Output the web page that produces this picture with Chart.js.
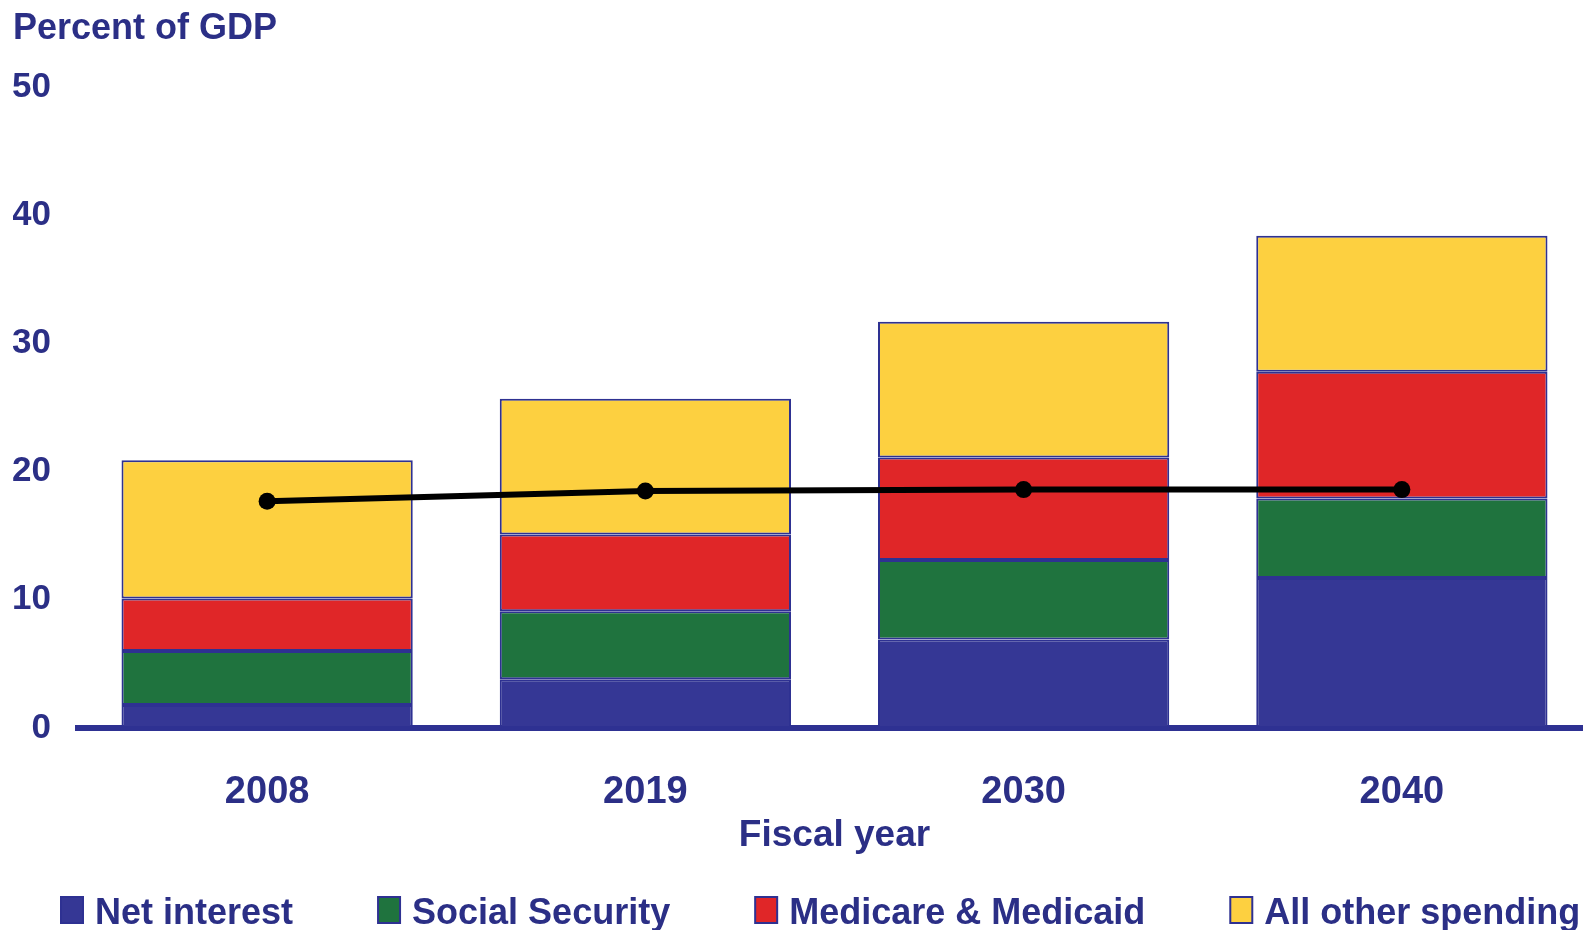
<!DOCTYPE html>
<html>
<head>
<meta charset="utf-8">
<script src="https://cdn.jsdelivr.net/npm/chart.js@4.4.1/dist/chart.umd.min.js"></script>
<style>
html, body { margin: 0; padding: 0; background: #ffffff; overflow: hidden; }
#wrap { position: absolute; left: 0; top: 0; width: 1600px; height: 930px; }
</style>
</head>
<body>
<div id="wrap"><canvas id="chart"></canvas></div>
<script>
// ---- data ----
const categories = ['2008', '2019', '2030', '2040'];
const netInterest = [1.8, 3.8, 6.9, 11.7];
const socialSecurity = [4.2, 5.3, 6.2, 6.2];
const medicareMedicaid = [4.1, 6.0, 8.0, 9.9];
const allOtherSpending = [10.8, 10.6, 10.6, 10.6];
const revenue = [17.7, 18.5, 18.6, 18.6];
const yTickValues = [0, 10, 20, 30, 40, 50];
const seriesLabels = ['Net interest', 'Social Security', 'Medicare & Medicaid', 'All other spending'];
const seriesColors = ['#353795', '#1f733e', '#e02628', '#fdd040'];
const yAxisTitle = 'Percent of GDP';
const xAxisTitle = 'Fiscal year';

// ---- style ----
const NAVY = '#2b2f86';
const EDGE = '#2e3192';
const FONT = '"Liberation Sans", Arial, Helvetica, sans-serif';

const seriesValues = [netInterest, socialSecurity, medicareMedicaid, allOtherSpending];

const barDatasets = seriesLabels.map((label, i) => ({
  type: 'bar',
  label: label,
  data: seriesValues[i],
  backgroundColor: seriesColors[i],
  borderColor: EDGE,
  borderWidth: 2,
  borderSkipped: false,
  barPercentage: 0.77,
  categoryPercentage: 1.0,
  order: 1
}));

const lineDataset = {
  type: 'line',
  label: 'Revenue',
  data: revenue,
  borderColor: '#000000',
  backgroundColor: '#000000',
  borderWidth: 6,
  pointRadius: 8.5,
  pointBackgroundColor: '#000000',
  pointBorderColor: '#000000',
  pointBorderWidth: 0,
  tension: 0,
  fill: false,
  order: 0
};

// custom bottom legend (bar series only)
const bottomLegend = {
  id: 'bottomLegend',
  afterDraw(chart) {
    const ctx = chart.ctx;
    ctx.save();
    ctx.font = 'bold 36px ' + FONT;
    ctx.textBaseline = 'alphabetic';
    ctx.textAlign = 'left';
    let x = 61;
    chart.data.datasets.filter(d => d.type === 'bar').forEach(ds => {
      ctx.fillStyle = ds.backgroundColor;
      ctx.fillRect(x, 897, 22, 26);
      ctx.lineWidth = 2;
      ctx.strokeStyle = EDGE;
      ctx.strokeRect(x, 897, 22, 26);
      ctx.fillStyle = NAVY;
      ctx.fillText(ds.label, x + 34, 924);
      x += 34 + ctx.measureText(ds.label).width + 85;
    });
    ctx.restore();
  }
};

new Chart(document.getElementById('chart'), {
  data: {
    labels: categories,
    datasets: [lineDataset, ...barDatasets]
  },
  plugins: [bottomLegend],
  options: {
    responsive: true,
    maintainAspectRatio: false,
    animation: false,
    layout: { padding: { left: 13, right: 9, top: 0, bottom: 0 } },
    plugins: {
      legend: { display: false },
      tooltip: { enabled: false },
      title: {
        display: true,
        text: yAxisTitle,
        align: 'start',
        color: NAVY,
        font: { family: FONT, size: 36, weight: 'bold', lineHeight: 1.2 },
        padding: { top: 7, bottom: 37 }
      }
    },
    scales: {
      x: {
        stacked: true,
        z: 1,
        grid: { display: false, drawTicks: false },
        border: { display: true, color: EDGE, width: 6 },
        ticks: {
          color: NAVY,
          padding: 42,
          font: { family: FONT, size: 38, weight: 'bold', lineHeight: 1.2 }
        },
        title: {
          display: true,
          text: xAxisTitle,
          color: NAVY,
          font: { family: FONT, size: 37, weight: 'bold', lineHeight: 1.2 },
          padding: { top: 0, bottom: 72 }
        },
        afterFit(scale) { scale.height = 202; }
      },
      y: {
        stacked: true,
        min: 0,
        max: 50,
        grid: { display: false, drawTicks: false },
        border: { display: false },
        afterBuildTicks(scale) { scale.ticks = yTickValues.map(v => ({ value: v })); },
        ticks: {
          color: NAVY,
          padding: 27,
          font: { family: FONT, size: 35, weight: 'bold', lineHeight: 1.2 }
        },
        afterFit(scale) { scale.width = 65; }
      }
    }
  }
});
</script>
</body>
</html>
